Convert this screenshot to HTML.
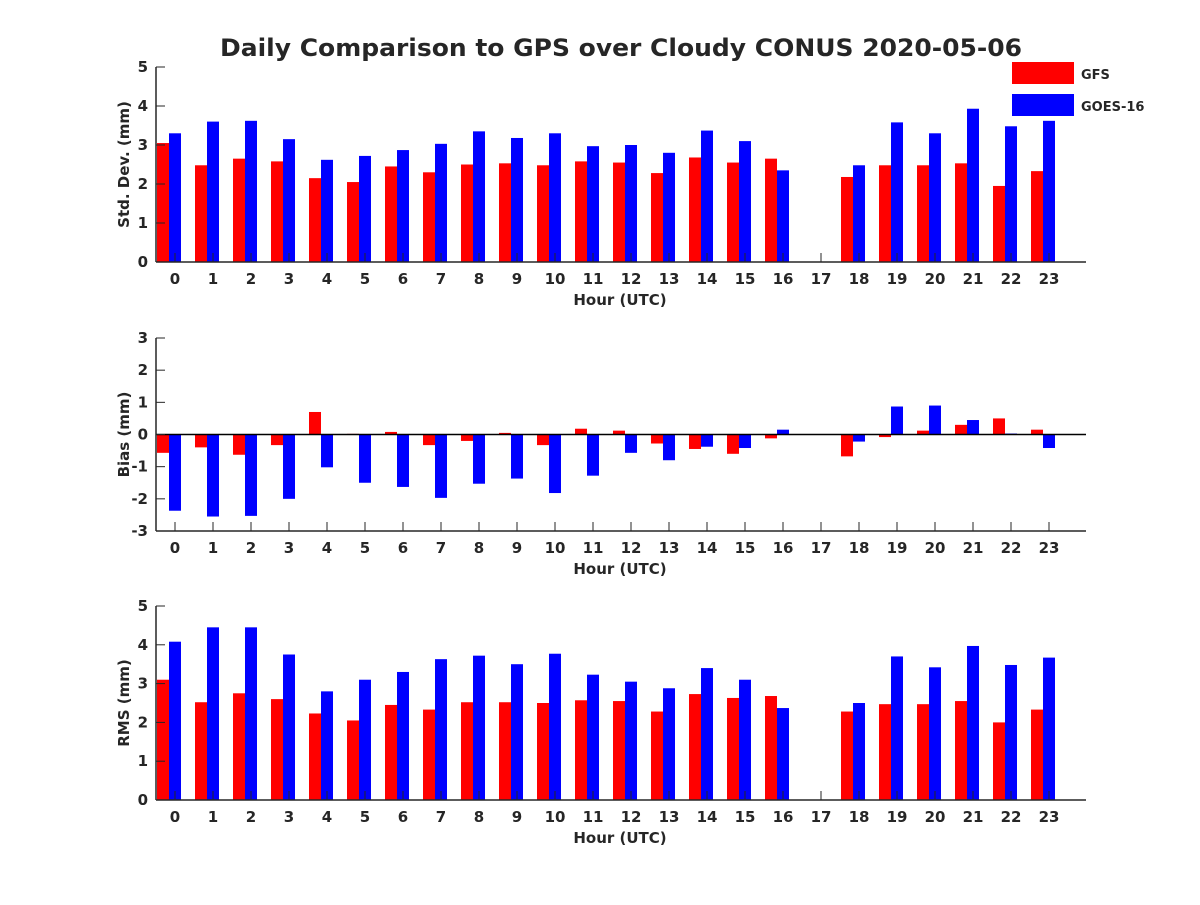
<!DOCTYPE html>
<html><head><meta charset="utf-8"><style>
body{margin:0;background:#fff}
svg text{font-family:"DejaVu Sans","Liberation Sans",sans-serif;font-weight:bold;fill:#262626}
</style></head><body>
<svg id="c" width="1200" height="900"></svg>
<script>
const hours=[0,1,2,3,4,5,6,7,8,9,10,11,12,13,14,15,16,17,18,19,20,21,22,23];
const stdGFS=[3.05,2.48,2.65,2.58,2.15,2.05,2.45,2.3,2.5,2.53,2.48,2.58,2.55,2.28,2.68,2.55,2.65,null,2.18,2.48,2.48,2.53,1.95,2.33];
const stdGOES=[3.3,3.6,3.62,3.15,2.62,2.72,2.87,3.03,3.35,3.18,3.3,2.97,3.0,2.8,3.37,3.1,2.35,null,2.48,3.58,3.3,3.93,3.48,3.62];
const biasGFS=[-0.57,-0.4,-0.63,-0.33,0.7,0.02,0.08,-0.33,-0.2,0.05,-0.33,0.18,0.12,-0.28,-0.45,-0.6,-0.12,null,-0.68,-0.08,0.12,0.3,0.5,0.15];
const biasGOES=[-2.37,-2.55,-2.53,-2.0,-1.02,-1.5,-1.63,-1.97,-1.53,-1.37,-1.82,-1.28,-0.57,-0.8,-0.38,-0.42,0.15,null,-0.22,0.87,0.9,0.45,0.03,-0.42];
const rmsGFS=[3.1,2.52,2.75,2.6,2.23,2.05,2.45,2.33,2.52,2.52,2.5,2.57,2.55,2.28,2.73,2.63,2.68,null,2.28,2.47,2.47,2.55,2.0,2.33];
const rmsGOES=[4.08,4.45,4.45,3.75,2.8,3.1,3.3,3.63,3.72,3.5,3.77,3.23,3.05,2.88,3.4,3.1,2.37,null,2.5,3.7,3.42,3.97,3.48,3.67];
const stdTicks=[0,1,2,3,4,5];
const biasTicks=[-3,-2,-1,0,1,2,3];
const rmsTicks=[0,1,2,3,4,5];
const NS="http://www.w3.org/2000/svg";
const svg=document.getElementById('c');
function mk(t,a,p){const e=document.createElementNS(NS,t);for(const k in a)e.setAttribute(k,a[k]);(p||svg).appendChild(e);return e;}
const t=mk('text',{x:621,y:56,'text-anchor':'middle','font-size':24,textLength:802,lengthAdjust:'spacingAndGlyphs'});t.textContent='Daily Comparison to GPS over Cloudy CONUS 2020-05-06';

function panel(name,yTop,yBot,ymin,ymax,ticks,gfs,goes,ylabel,zeroLine){
  const g=mk('g',{});
  
  const x0=156,x1=1086;
  const xs=h=>175+h*38;
  const ys=v=>yBot-(v-ymin)/(ymax-ymin)*(yBot-yTop);
  hours.forEach((h,i)=>{
    if(gfs[i]!=null){const a=ys(Math.max(0,gfs[i])),b=ys(Math.min(0,gfs[i]));
      const r=mk('rect',{x:xs(h)-18,y:a,width:12,height:Math.max(0.5,b-a),fill:'#ff0000'},g);
      }
    if(goes[i]!=null){const a=ys(Math.max(0,goes[i])),b=ys(Math.min(0,goes[i]));
      const r=mk('rect',{x:xs(h)-6,y:a,width:12,height:Math.max(0.5,b-a),fill:'#0000ff'},g);
      }
  });
  if(zeroLine)mk('line',{x1:x0,x2:x1,y1:ys(0),y2:ys(0),stroke:'#000','stroke-width':1.5},g);
  mk('line',{x1:x0,x2:x0,y1:yTop,y2:yBot,stroke:'#262626','stroke-width':1.5},g);
  mk('line',{x1:x0,x2:x1,y1:yBot,y2:yBot,stroke:'#262626','stroke-width':1.5},g);
  ticks.forEach(v=>{const y=ys(v);mk('line',{x1:x0,x2:x0+9,y1:y,y2:y,stroke:'#262626'},g);
    const tt=mk('text',{x:x0-8,y:y+5,'text-anchor':'end','font-size':15},g);tt.textContent=v;});
  hours.forEach(h=>{const x=xs(h);mk('line',{x1:x,x2:x,y1:yBot,y2:yBot-9,stroke:'#262626'},g);
    const tt=mk('text',{x:x,y:yBot+22,'text-anchor':'middle','font-size':15},g);tt.textContent=h;});
  const xl=mk('text',{x:620,y:yBot+43,'text-anchor':'middle','font-size':15},g);xl.textContent='Hour (UTC)';
  
  const cy=(yTop+yBot)/2;
  const yl=mk('text',{x:129,y:cy,'text-anchor':'middle','font-size':15,transform:`rotate(-90 129 ${cy})`},g);yl.textContent=ylabel;
  
}
panel('std-dev',67,262,0,5,stdTicks,stdGFS,stdGOES,'Std. Dev. (mm)',false);
panel('bias',338,531,-3,3,biasTicks,biasGFS,biasGOES,'Bias (mm)',true);
panel('rms',606,800,0,5,rmsTicks,rmsGFS,rmsGOES,'RMS (mm)',false);
const lg=mk('g',{});
const l1=mk('rect',{x:1012,y:62,width:62,height:22,fill:'#ff0000'},lg);

const l2=mk('rect',{x:1012,y:94,width:62,height:22,fill:'#0000ff'},lg);

const lt1=mk('text',{x:1081,y:79,'font-size':13},lg);lt1.textContent='GFS';
const lt2=mk('text',{x:1081,y:111,'font-size':13},lg);lt2.textContent='GOES-16';
</script>
</body></html>
